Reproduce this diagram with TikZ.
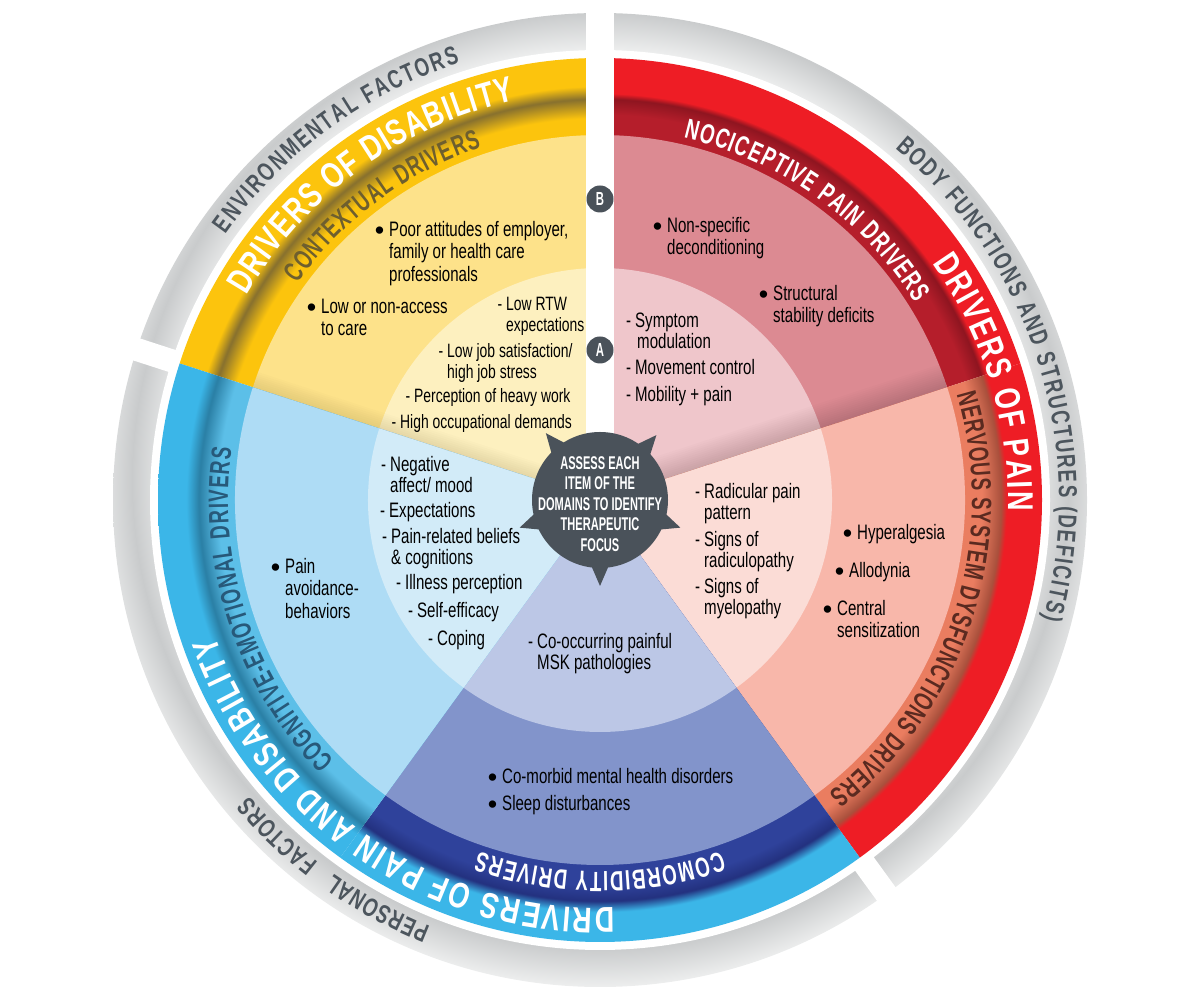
\documentclass[tikz,border=0pt]{standalone}
\usepackage{fontspec}
\usepackage{amsmath}
\usetikzlibrary{decorations.text}
\setmainfont{Liberation Sans}
\newfontfamily\plainfont{Liberation Sans}
\newfontfamily\condfont[FakeStretch=0.72]{Liberation Sans}
\newfontfamily\headfont[FakeStretch=0.75]{Liberation Sans}
\newfontfamily\bandfont[FakeStretch=0.67]{Liberation Sans}
\newfontfamily\hubfont[FakeStretch=0.6]{Liberation Sans}

\definecolor{ringlight}{HTML}{EDEEEE}
\definecolor{ringdark}{HTML}{C9CBCC}
\definecolor{ringtext}{HTML}{4C555D}
\definecolor{hubgray}{HTML}{4A525A}
\definecolor{yellowband}{HTML}{FCC40D}
\definecolor{yellowdark}{HTML}{87702E}
\definecolor{yellowmid}{HTML}{FDE28A}
\definecolor{yellowinner}{HTML}{FDF0BF}
\definecolor{yellowtext}{HTML}{6E5F2E}
\definecolor{redband}{HTML}{EE1D25}
\definecolor{redsecond}{HTML}{B51E2B}
\definecolor{reddark}{HTML}{8E1520}
\definecolor{redmid}{HTML}{DC8A92}
\definecolor{redinner}{HTML}{EFC6CB}
\definecolor{salmonband}{HTML}{EA7D60}
\definecolor{salmondark}{HTML}{A9503C}
\definecolor{salmonmid}{HTML}{F8B7AA}
\definecolor{salmoninner}{HTML}{FBDCD6}
\definecolor{salmontext}{HTML}{5A2A20}
\definecolor{blueband}{HTML}{3BB6E8}
\definecolor{bluesecond}{HTML}{5CBFE8}
\definecolor{bluedark}{HTML}{2A7FA5}
\definecolor{bluemid}{HTML}{AEDCF5}
\definecolor{blueinner}{HTML}{D2EBF8}
\definecolor{bluetext}{HTML}{27597A}
\definecolor{indigoband}{HTML}{2F429B}
\definecolor{indigodark}{HTML}{23317F}
\definecolor{indigomid}{HTML}{8294CB}
\definecolor{indigoinner}{HTML}{BCC7E6}

% stops: 25bp is the rim of the circle that is shaded
\pgfdeclareradialshading{ringshade}{\pgfpointorigin}{color(0bp)=(ringlight);color(20.67bp)=(ringlight);color(22.5bp)=(ringdark);color(24.38bp)=(ringlight);color(50bp)=(ringlight)}
\pgfdeclareradialshading{yellowshade}{\pgfpointorigin}{color(0bp)=(yellowband);color(21.6bp)=(yellowband);color(22.68bp)=(yellowdark);color(23.4bp)=(yellowband);color(50bp)=(yellowband)}
\pgfdeclareradialshading{nocishade}{\pgfpointorigin}{color(0bp)=(redsecond);color(21.8bp)=(redsecond);color(22.68bp)=(reddark);color(23.0bp)=(redband);color(50bp)=(redband)}
\pgfdeclareradialshading{nervshade}{\pgfpointorigin}{color(0bp)=(salmonband);color(21.6bp)=(salmonband);color(22.68bp)=(salmondark);color(23.0bp)=(redband);color(50bp)=(redband)}
\pgfdeclareradialshading{comoshade}{\pgfpointorigin}{color(0bp)=(indigoband);color(21.8bp)=(indigoband);color(22.68bp)=(indigodark);color(23.3bp)=(blueband);color(50bp)=(blueband)}
\pgfdeclareradialshading{cogshade}{\pgfpointorigin}{color(0bp)=(bluesecond);color(21.6bp)=(bluesecond);color(22.68bp)=(bluedark);color(23.4bp)=(blueband);color(50bp)=(blueband)}

\newcommand{\sectorpie}[3]{(0,0) -- (#1:#3bp) arc[start angle=#1,end angle=#2,radius=#3bp] -- cycle}
\newcommand{\bul}{\rule{0pt}{16bp}\llap{\raisebox{-3bp}{\plainfont\fontsize{27}{27}\selectfont\textbullet}\hspace{5bp}}}
\newcommand{\dsh}{\rule{0pt}{16bp}\llap{-\hspace{4bp}}}
\newcommand{\arclabel}[7]{\path[decorate,decoration={text along path,text={|#4\bfseries\fontsize{#5}{#5}\selectfont\color{#6}|#7},text align={fit to path}}] (#1:#3bp) arc[start angle=#1,end angle=#2,radius=#3bp];}

\tikzset{
  bulletitem/.style={anchor=north west,inner sep=0pt,align=left,text=black,font=\condfont\fontsize{21}{22.5}\selectfont},
  dashitem/.style={anchor=north west,inner sep=0pt,align=left,text=black,font=\condfont\fontsize{21}{21}\selectfont},
  smallitem/.style={dashitem,font=\condfont\fontsize{19.4}{21}\selectfont},
  badge/.style={circle,fill=hubgray,text=white,inner sep=0pt,minimum size=27bp,font=\hubfont\bfseries\fontsize{19}{19}\selectfont},
}

\begin{document}
\begin{tikzpicture}[line join=bevel]
\useasboundingbox (0bp,0bp) rectangle (1200bp,999bp);
%%
\begin{scope}[shift={(600bp,499bp)}]
  \begin{scope}
    \clip (0,0) circle (487bp);
    \shade[shading=ringshade] (0bp,20bp) circle (520bp);
  \end{scope}
  \fill[white] (0,0) circle (450bp);
  \draw[white,line width=23bp] (162:446bp) -- (162:500bp);
  \draw[white,line width=23bp] (-54:446bp) -- (-54:500bp);
  \foreach \afrom/\ato/\bandname/\midcol/\innercol in {90/162/yellowshade/yellowmid/yellowinner,
      90/18/nocishade/redmid/redinner, 18/-54/nervshade/salmonmid/salmoninner,
      -54/-126/comoshade/indigomid/indigoinner, -126/-198/cogshade/bluemid/blueinner}{
    \begin{scope}
      \clip \sectorpie{\afrom}{\ato}{442};
      \shade[shading=\bandname] (0,0) circle (442bp);
    \end{scope}
    \fill[\midcol] \sectorpie{\afrom}{\ato}{365};
    \fill[\innercol] \sectorpie{\afrom}{\ato}{232};
  }
  % soft edge along two of the sector borders
  \begin{scope}
    \clip \sectorpie{90}{18}{365};
    \foreach \w in {4,8,...,48}{\draw[black,opacity=0.012,line width=\w bp] (0,0) -- (18:365bp);}
  \end{scope}
  \begin{scope}
    \clip \sectorpie{90}{162}{365};
    \foreach \w in {4,8,...,32}{\draw[yellowdark,opacity=0.02,line width=\w bp] (0,0) -- (162:365bp);}
  \end{scope}
  \fill[white] (-14bp,0bp) rectangle (14bp,500bp);
  %
  \fill[hubgray] (0,0) circle (68bp);
  \fill[hubgray] (119:62bp) -- (129:86bp) -- (139:62bp) -- cycle;
  \fill[hubgray] (39:62bp) -- (49:86bp) -- (59:62bp) -- cycle;
  \fill[hubgray] (189:62bp) -- (199:85bp) -- (209:62bp) -- cycle;
  \fill[hubgray] (-29:62bp) -- (-19:85bp) -- (-9:62bp) -- cycle;
  \fill[hubgray] (-100:62bp) -- (-90:86bp) -- (-80:62bp) -- cycle;
  %
  \arclabel{144.6}{107.8}{459}{\condfont}{26}{ringtext}{ENVIRONMENTAL FACTORS}
  \arclabel{50}{-15}{459}{\condfont}{26}{ringtext}{BODY FUNCTIONS AND STRUCTURES (DEFICITS)}
  \arclabel{-111.7}{-125.4}{459}{\condfont}{26}{ringtext}{PERSONAL}
  \arclabel{-127.9}{-139.8}{459}{\condfont}{26}{ringtext}{FACTORS}
  \arclabel{150}{102}{408}{\headfont}{36}{white}{DRIVERS OF DISABILITY}
  \arclabel{35.4}{-1.5}{408}{\headfont}{36}{white}{DRIVERS OF PAIN}
  \arclabel{-88}{-160.5}{408}{\headfont}{36}{white}{DRIVERS OF PAIN AND DISABILITY}
  \arclabel{144.4}{108.6}{372}{\bandfont}{28}{yellowtext}{CONTEXTUAL DRIVERS}
  \arclabel{77}{32}{372}{\bandfont}{28}{white}{NOCICEPTIVE PAIN DRIVERS}
  \arclabel{16.5}{-52}{372}{\bandfont}{28}{salmontext}{NERVOUS SYSTEM DYSFUNCTIONS DRIVERS}
  \arclabel{-71}{-109}{372}{\bandfont}{28}{white}{COMORBIDITY DRIVERS}
  \arclabel{-135.5}{-188}{372}{\bandfont}{28}{bluetext}{COGNITIVE-EMOTIONAL DRIVERS}
\end{scope}
%%
\node (badge_b) at (600bp,800bp) [badge] {B};
\node (badge_a) at (600bp,649bp) [badge] {A};
\node (hub_text) at (600bp,495bp) [align=center,text=white,inner sep=0pt,font=\hubfont\bfseries\fontsize{18.5}{20.5}\selectfont] {ASSESS EACH\\ITEM OF THE\\DOMAINS TO IDENTIFY\\THERAPEUTIC\\FOCUS};
%
\node (item_poor) at (389bp,779bp) [bulletitem] {\bul Poor attitudes of employer,\\family or health care\\professionals};
\node (item_access) at (321bp,702bp) [bulletitem] {\bul Low or non-access\\to care};
\node (item_rtw) at (506bp,705bp) [smallitem] {\dsh Low RTW\\expectations};
\node (item_job) at (447bp,658bp) [smallitem] {\dsh Low job satisfaction/\\high job stress};
\node (item_heavy) at (414bp,613bp) [smallitem] {\dsh Perception of heavy work};
\node (item_demands) at (400bp,587bp) [smallitem] {\dsh High occupational demands};
%
\node (item_decond) at (667bp,783bp) [bulletitem] {\bul Non-specific\\deconditioning};
\node (item_stability) at (773bp,715bp) [bulletitem] {\bul Structural\\stability deficits};
\node (item_symptom) at (635bp,688bp) [dashitem] {\dsh Symptom\\\hspace*{2bp}modulation};
\node (item_movement) at (635bp,641bp) [dashitem] {\dsh Movement control};
\node (item_mobility) at (635bp,614bp) [dashitem] {\dsh Mobility + pain};
%
\node (item_radicular) at (704bp,517bp) [dashitem] {\dsh Radicular pain\\pattern};
\node (item_radiculo) at (704bp,469bp) [dashitem] {\dsh Signs of\\radiculopathy};
\node (item_myelo) at (704bp,422bp) [dashitem] {\dsh Signs of\\myelopathy};
\node (item_hyper) at (857bp,476bp) [bulletitem] {\bul Hyperalgesia};
\node (item_allo) at (849bp,438bp) [bulletitem] {\bul Allodynia};
\node (item_central) at (837bp,400bp) [bulletitem] {\bul Central\\sensitization};
%
\node (item_avoid) at (285bp,442bp) [bulletitem] {\bul Pain\\avoidance-\\behaviors};
\node (item_affect) at (390bp,544bp) [dashitem] {\dsh Negative\\affect/ mood};
\node (item_expect) at (389bp,498bp) [dashitem] {\dsh Expectations};
\node (item_beliefs) at (391bp,472bp) [dashitem] {\dsh Pain-related beliefs\\\&~cognitions};
\node (item_illness) at (405bp,426bp) [dashitem] {\dsh Illness perception};
\node (item_efficacy) at (417bp,398bp) [dashitem] {\dsh Self-efficacy};
\node (item_coping) at (437bp,370bp) [dashitem] {\dsh Coping};
%
\node (item_msk) at (537bp,367bp) [dashitem] {\dsh Co-occurring painful\\MSK pathologies};
\node (item_mental) at (502bp,232bp) [bulletitem] {\bul Co-morbid mental health disorders};
\node (item_sleep) at (502bp,205bp) [bulletitem] {\bul Sleep disturbances};
%
\end{tikzpicture}
\end{document}
